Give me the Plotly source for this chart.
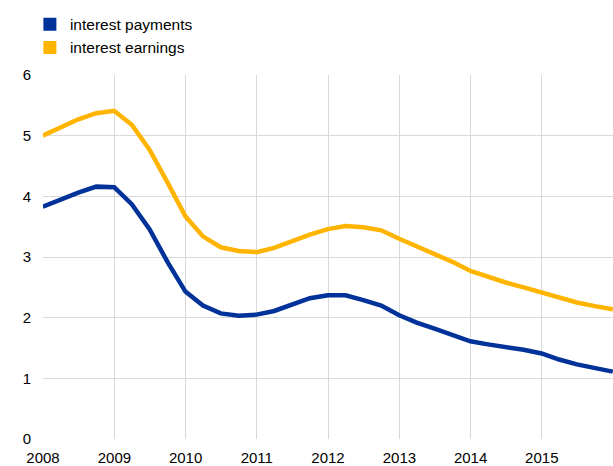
import plotly.graph_objects as go
import pandas as pd

quarters = pd.date_range("2007-12-31", periods=33, freq="QE").strftime("%Y-%m-%d").tolist()

interest_payments = [3.83, 3.95, 4.06, 4.16, 4.15, 3.87, 3.46, 2.92, 2.43, 2.20, 2.07, 2.03,
                     2.05, 2.11, 2.22, 2.32, 2.37, 2.37, 2.29, 2.20, 2.04, 1.92, 1.82, 1.71,
                     1.61, 1.56, 1.52, 1.47, 1.41, 1.31, 1.23, 1.17, 1.11]
interest_earnings = [5.00, 5.13, 5.27, 5.37, 5.41, 5.18, 4.77, 4.23, 3.67, 3.34, 3.16, 3.10,
                     3.08, 3.15, 3.26, 3.37, 3.46, 3.51, 3.49, 3.44, 3.30, 3.18, 3.05, 2.92,
                     2.77, 2.67, 2.58, 2.50, 2.42, 2.33, 2.25, 2.19, 2.14]

series_names = ["interest payments", "interest earnings"]
colors = ["#003299", "#FFB400"]
year_ticks = ["2008", "2009", "2010", "2011", "2012", "2013", "2014", "2015"]

fig = go.Figure()
for name, vals, col in zip(series_names, [interest_payments, interest_earnings], colors):
    fig.add_trace(go.Scatter(x=quarters, y=vals, mode="lines", name=name,
                             line=dict(color=col, width=4.5), showlegend=False,
                             hoverinfo="skip"))
    fig.add_trace(go.Scatter(x=[None], y=[None], mode="markers", name=name,
                             marker=dict(color=col, symbol="square", size=13)))

grid = "#d9d9d9"
fig.update_layout(
    width=613, height=466,
    margin=dict(l=43, r=0, t=75, b=25),
    paper_bgcolor="white", plot_bgcolor="white",
    font=dict(family="Liberation Sans, Arial, sans-serif", size=15, color="#000000"),
    legend=dict(x=-0.023, y=1.185, xanchor="left", yanchor="top",
                font=dict(size=15.5, color="#000000"), tracegroupgap=0,
                itemwidth=30, bgcolor="rgba(0,0,0,0)"),
    xaxis=dict(type="date", range=["2008-01-01", "2016-01-01"],
               tickvals=[f"{y}-01-01" for y in year_ticks], ticktext=year_ticks,
               showgrid=True, gridcolor=grid, gridwidth=1,
               showline=False, zeroline=False, ticks="", ticklabelstandoff=8),
    yaxis=dict(range=[0, 6], dtick=1, showgrid=True, gridcolor=grid, gridwidth=1,
               showline=False, zeroline=False, ticks="", ticklabelstandoff=11),
)
fig.write_html("out.html", config={"displayModeBar": False},
               post_script="document.body.style.margin='0';")
